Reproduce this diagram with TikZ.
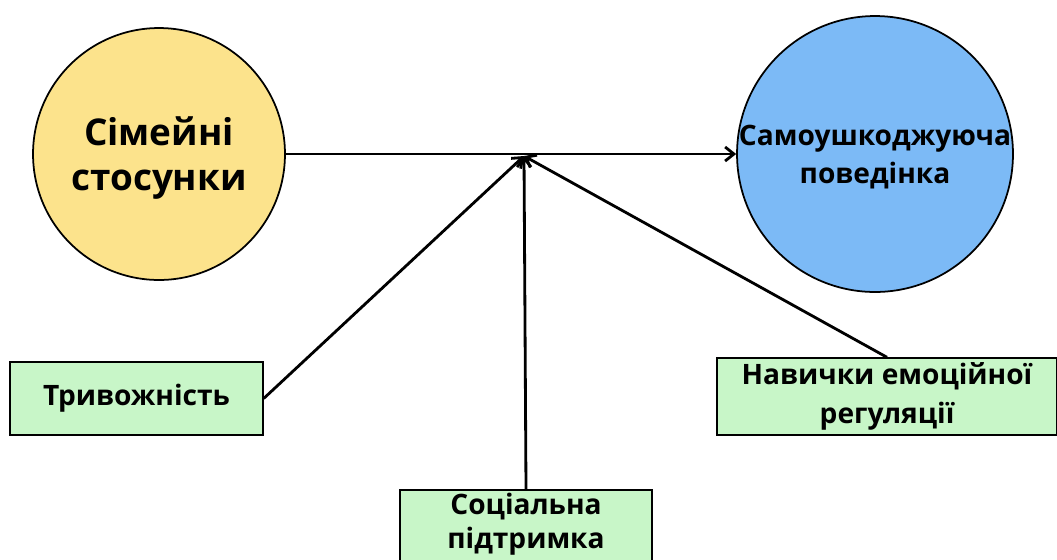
\documentclass[tikz,border=0pt]{standalone}
\usepackage{fontspec}
\setmainfont{Open Sans}
\usetikzlibrary{arrows.meta}
\definecolor{famyellow}{RGB}{252,227,140}
\definecolor{harmblue}{RGB}{124,186,246}
\definecolor{modgreen}{RGB}{200,246,200}
\begin{document}
\begin{tikzpicture}[x=0.02cm,y=-0.02cm,
 circ/.style={circle,draw,line width=1pt,inner sep=0pt},
 ctext/.style={align=center,font=\bfseries\fontsize{16}{22}\selectfont},
 modbox/.style={draw,fill=modgreen,line width=0.8pt,align=center,inner sep=0pt,
   font=\bfseries\fontsize{16}{22}\selectfont},
 arr/.style={-{Straight Barb[length=5pt,width=8pt]},line width=1.6pt}]
 \useasboundingbox (0,0) rectangle (1057,559);
 % outcome and predictor
 \node[circ,fill=famyellow,minimum size=5.04cm] (fam) at (159,154) {};
 \node[ctext,font=\bfseries\fontsize{21}{26}\selectfont] (famtxt) at (159,158) {Сімейні\\стосунки};
 \node[circ,fill=harmblue,minimum size=5.52cm] (harm) at (875,154) {};
 \node[ctext] (harmtxt) at (875,157) {Самоушкоджуюча\\поведінка};
 \coordinate (mid) at (524,156);
 % moderators
 \node[modbox,minimum width=5.06cm,minimum height=1.46cm] (anx) at (136.5,398.5) {Тривожність};
 \node[modbox,minimum width=6.8cm,minimum height=1.54cm] (reg) at (887,396.5) {Навички емоційної\\регуляції};
 \node[modbox,minimum width=5.04cm,minimum height=1.6cm] (soc) at (526,530) {};
 \node[ctext,font=\bfseries\fontsize{16}{19}\selectfont] (soctxt) at (526,524) {Соціальна\\підтримка};
 \draw[arr] (fam) -- (harm);
 \draw[arr] (anx.east) -- (mid);
 \draw[arr] (soc.north) -- (mid);
 \draw[arr] (reg.north) -- (mid);
\end{tikzpicture}
\end{document}
